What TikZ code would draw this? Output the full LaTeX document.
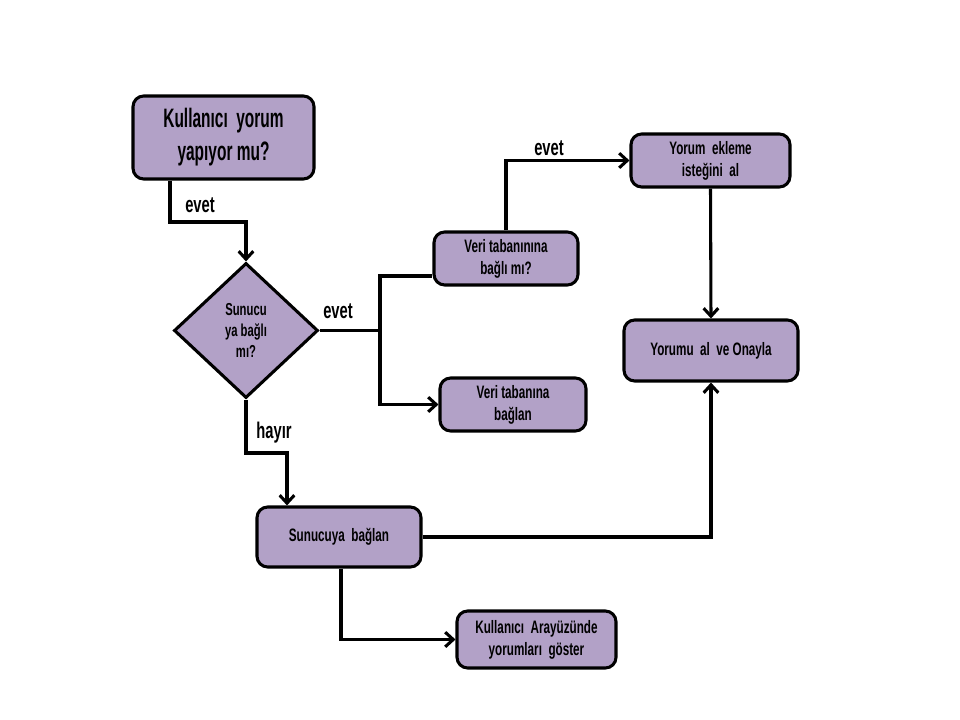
\documentclass[tikz,border=0pt]{standalone}
\usepackage{fontspec}
\setmainfont{Liberation Sans}[FakeStretch=0.65]
\newfontfamily\tallfont{Liberation Sans}[FakeStretch=0.58]
\usetikzlibrary{shapes.geometric,arrows.meta}
\definecolor{boxfill}{HTML}{B2A1C7}
\tikzset{
  box/.style={draw=black, line width=2.3pt, fill=boxfill, rounded corners=8pt, align=center, inner sep=2pt},
  decision/.style={draw=black, line width=2.3pt, fill=boxfill, diamond, align=center, inner sep=0pt},
  conn/.style={draw=black, line width=2.3pt, -{Straight Barb[length=6pt,width=11pt,line width=2.3pt]}},
  plain/.style={draw=black, line width=2.3pt},
  lbl/.style={font=\fontsize{17}{18}\selectfont\bfseries, inner sep=0pt},
  small/.style={font=\fontsize{13.5}{16.5}\selectfont\bfseries},
}
\begin{document}
\begin{tikzpicture}[x=0.75pt,y=-0.75pt]
\useasboundingbox (0,0) rectangle (960,720);
\fill[white] (0,0) rectangle (960,720);

\node[box, minimum width=135.75pt, minimum height=62.25pt, font=\tallfont\fontsize{20}{24.75}\selectfont\bfseries] (q1) at (223.5,137.5) {Kullanıcı\ \ yorum\\yapıyor mu?};
\node[decision, minimum width=108pt, minimum height=101.25pt, font=\fontsize{13}{15.75}\selectfont\bfseries] (d1) at (246,330.5) {Sunucu\\ya bağlı\\mı?};
\node[box, small, minimum width=108pt, minimum height=39.75pt] (vt) at (506,258.5) {Veri tabanınına\\bağlı mı?};
\node[box, small, minimum width=109.5pt, minimum height=39.75pt] (vb) at (513,404.5) {Veri tabanına\\bağlan};
\node[box, small, minimum width=119.25pt, minimum height=39.75pt] (ye) at (710.5,160.5) {Yorum\ \ ekleme\\isteğini\ \ al};
\node[box, small, minimum width=130.5pt, minimum height=45.75pt] (yo) at (711,350.5) {Yorumu\ \ al\ \ ve Onayla};
\node[box, small, minimum width=123pt, minimum height=45pt] (sb) at (339,537) {Sunucuya\ \ bağlan};
\node[box, small, minimum width=119.25pt, minimum height=42.75pt] (ka) at (536.5,639.5) {Kullanıcı\ \ Arayüzünde\\yorumları\ \ göster};

\coordinate (j1) at (380,330.5);

% q1 -> d1
\draw[conn] (q1.south -| 170,0) -- (170,222) -- (246,222) -- (d1.north);
\node[lbl] (l1) at (200,205) {evet};
% d1 -> vt, vb
\draw[plain] (d1.east) -- (j1);
\draw[plain] (j1) |- (vt.west |- 0,276);
\draw[conn] (j1) |- (vb.west);
\node[lbl] (l2) at (338,311) {evet};
% d1 -> sb
\draw[conn] (d1.south) -- (246,453) -- (287,453) -- (sb.north -| 287,0);
\node[lbl] (l3) at (274,433) {hayır};
% vt -> ye
\draw[conn] (vt.north) |- (ye.west);
\node[lbl] (l4) at (549,148) {evet};
% ye -> yo
\draw[conn] (ye.south) -- (yo.north);
% sb -> yo
\draw[conn] (sb.east) -| (yo.south);
% sb -> ka
\draw[conn] (sb.south -| 341,0) |- (ka.west);
\end{tikzpicture}
\end{document}
